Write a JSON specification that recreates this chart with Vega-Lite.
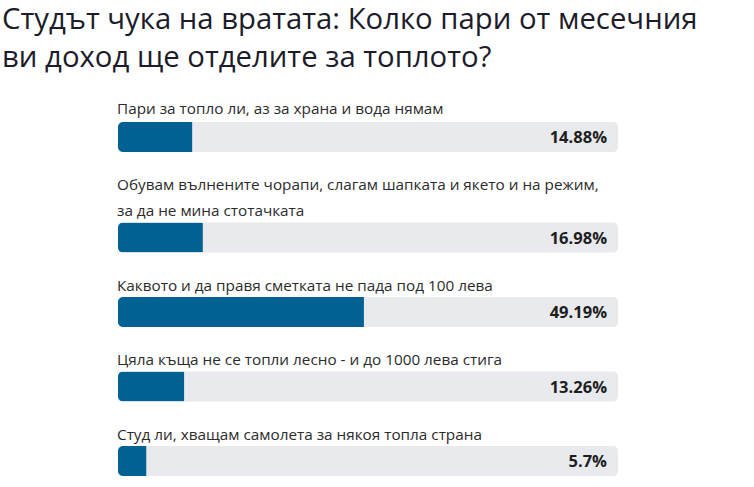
{
  "$schema": "https://vega.github.io/schema/vega-lite/v6.json",
  "background": "#ffffff",
  "padding": {"left": 2, "top": 6, "right": 5, "bottom": 5},
  "title": {
    "text": ["Студът чука на вратата: Колко пари от месечния", "ви доход ще отделите за топлото?"],
    "anchor": "start",
    "dx": 0,
    "fontSize": 29.3,
    "lineHeight": 38,
    "font": "Open Sans",
    "fontWeight": "normal",
    "color": "#1c1c2a",
    "baseline": "alphabetic",
    "offset": 5
  },
  "data": {
    "values": [
      {"id": 1, "answer": "Пари за топло ли, аз за храна и вода нямам", "share": 14.88},
      {"id": 2, "answer": "Обувам вълнените чорапи, слагам шапката и якето и на режим, за да не мина стотачката", "share": 16.98},
      {"id": 3, "answer": "Каквото и да правя сметката не пада под 100 лева", "share": 49.19},
      {"id": 4, "answer": "Цяла къща не се топли лесно - и до 1000 лева стига", "share": 13.26},
      {"id": 5, "answer": "Студ ли, хващам самолета за някоя топла страна", "share": 5.7}
    ]
  },
  "transform": [
    {"calculate": "format(datum.share, '.4~r') + '%'", "as": "label"}
  ],
  "spacing": 25.5,
  "vconcat": [
    {
      "title": {"text": "Пари за топло ли, аз за храна и вода нямам", "offset": 5},
      "width": 616, "height": 30,
      "transform": [{"filter": "datum.id == 1"}],
      "encoding": {"y": {"field": "answer", "type": "nominal", "axis": null, "scale": {"paddingInner": 0, "paddingOuter": 0}}},
      "layer": [
        {"mark": {"type": "bar", "color": "#e8eaed", "cornerRadius": 5},
         "encoding": {"x": {"datum": 0, "type": "quantitative", "scale": {"domain": [0, 100], "range": [116, 616]}, "axis": null}, "x2": {"datum": 100}}},
        {"mark": {"type": "bar", "color": "#006192", "cornerRadiusTopLeft": 5, "cornerRadiusBottomLeft": 5},
         "encoding": {"x": {"field": "share", "type": "quantitative"}}},
        {"mark": {"type": "text", "align": "right", "baseline": "middle", "dx": -11, "dy": 1, "font": "Open Sans", "fontWeight": "bold", "fontSize": 16.5, "color": "#1e1e1e"},
         "encoding": {"x": {"datum": 100, "type": "quantitative"}, "text": {"field": "label"}}}
      ]
    },
    {
      "title": {"text": ["Обувам вълнените чорапи, слагам шапката и якето и на режим,", "за да не мина стотачката"]},
      "width": 616, "height": 30,
      "transform": [{"filter": "datum.id == 2"}],
      "encoding": {"y": {"field": "answer", "type": "nominal", "axis": null, "scale": {"paddingInner": 0, "paddingOuter": 0}}},
      "layer": [
        {"mark": {"type": "bar", "color": "#e8eaed", "cornerRadius": 5},
         "encoding": {"x": {"datum": 0, "type": "quantitative", "scale": {"domain": [0, 100], "range": [116, 616]}, "axis": null}, "x2": {"datum": 100}}},
        {"mark": {"type": "bar", "color": "#006192", "cornerRadiusTopLeft": 5, "cornerRadiusBottomLeft": 5},
         "encoding": {"x": {"field": "share", "type": "quantitative"}}},
        {"mark": {"type": "text", "align": "right", "baseline": "middle", "dx": -11, "dy": 1, "font": "Open Sans", "fontWeight": "bold", "fontSize": 16.5, "color": "#1e1e1e"},
         "encoding": {"x": {"datum": 100, "type": "quantitative"}, "text": {"field": "label"}}}
      ]
    },
    {
      "title": {"text": "Каквото и да правя сметката не пада под 100 лева"},
      "width": 616, "height": 30,
      "transform": [{"filter": "datum.id == 3"}],
      "encoding": {"y": {"field": "answer", "type": "nominal", "axis": null, "scale": {"paddingInner": 0, "paddingOuter": 0}}},
      "layer": [
        {"mark": {"type": "bar", "color": "#e8eaed", "cornerRadius": 5},
         "encoding": {"x": {"datum": 0, "type": "quantitative", "scale": {"domain": [0, 100], "range": [116, 616]}, "axis": null}, "x2": {"datum": 100}}},
        {"mark": {"type": "bar", "color": "#006192", "cornerRadiusTopLeft": 5, "cornerRadiusBottomLeft": 5},
         "encoding": {"x": {"field": "share", "type": "quantitative"}}},
        {"mark": {"type": "text", "align": "right", "baseline": "middle", "dx": -11, "dy": 1, "font": "Open Sans", "fontWeight": "bold", "fontSize": 16.5, "color": "#1e1e1e"},
         "encoding": {"x": {"datum": 100, "type": "quantitative"}, "text": {"field": "label"}}}
      ]
    },
    {
      "title": {"text": "Цяла къща не се топли лесно - и до 1000 лева стига"},
      "width": 616, "height": 30,
      "transform": [{"filter": "datum.id == 4"}],
      "encoding": {"y": {"field": "answer", "type": "nominal", "axis": null, "scale": {"paddingInner": 0, "paddingOuter": 0}}},
      "layer": [
        {"mark": {"type": "bar", "color": "#e8eaed", "cornerRadius": 5},
         "encoding": {"x": {"datum": 0, "type": "quantitative", "scale": {"domain": [0, 100], "range": [116, 616]}, "axis": null}, "x2": {"datum": 100}}},
        {"mark": {"type": "bar", "color": "#006192", "cornerRadiusTopLeft": 5, "cornerRadiusBottomLeft": 5},
         "encoding": {"x": {"field": "share", "type": "quantitative"}}},
        {"mark": {"type": "text", "align": "right", "baseline": "middle", "dx": -11, "dy": 1, "font": "Open Sans", "fontWeight": "bold", "fontSize": 16.5, "color": "#1e1e1e"},
         "encoding": {"x": {"datum": 100, "type": "quantitative"}, "text": {"field": "label"}}}
      ]
    },
    {
      "title": {"text": "Студ ли, хващам самолета за някоя топла страна"},
      "width": 616, "height": 30,
      "transform": [{"filter": "datum.id == 5"}],
      "encoding": {"y": {"field": "answer", "type": "nominal", "axis": null, "scale": {"paddingInner": 0, "paddingOuter": 0}}},
      "layer": [
        {"mark": {"type": "bar", "color": "#e8eaed", "cornerRadius": 5},
         "encoding": {"x": {"datum": 0, "type": "quantitative", "scale": {"domain": [0, 100], "range": [116, 616]}, "axis": null}, "x2": {"datum": 100}}},
        {"mark": {"type": "bar", "color": "#006192", "cornerRadiusTopLeft": 5, "cornerRadiusBottomLeft": 5},
         "encoding": {"x": {"field": "share", "type": "quantitative"}}},
        {"mark": {"type": "text", "align": "right", "baseline": "middle", "dx": -11, "dy": 1, "font": "Open Sans", "fontWeight": "bold", "fontSize": 16.5, "color": "#1e1e1e"},
         "encoding": {"x": {"datum": 100, "type": "quantitative"}, "text": {"field": "label"}}}
      ]
    }
  ],
  "config": {
    "view": {"stroke": null},
    "title": {
      "anchor": "start",
      "dx": 115,
      "fontSize": 15.3,
      "lineHeight": 26,
      "font": "Open Sans",
      "fontWeight": "normal",
      "color": "#2b2b2b",
      "baseline": "alphabetic",
      "offset": 3
    }
  }
}
